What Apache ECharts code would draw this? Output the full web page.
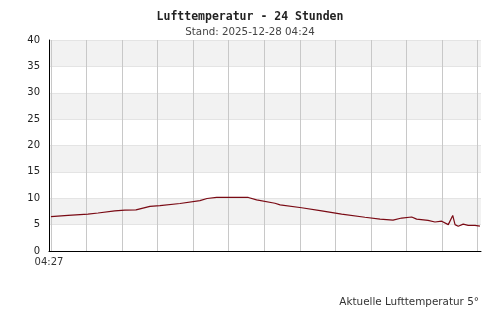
<!DOCTYPE html>
<html>
<head>
<meta charset="utf-8">
<script src="https://cdn.jsdelivr.net/npm/echarts@6/dist/echarts.min.js"></script>
<style>html,body{margin:0;padding:0;background:#fff}#c{width:500px;height:320px}</style>
</head>
<body>
<div id="c"></div>
<script>
// hours since 04:27
const hours = [0.11, 1.07, 2.19, 2.76, 3.70, 4.27, 4.89, 4.98, 5.68, 6.24, 7.37, 8.49, 8.89, 9.43, 11.21, 11.68, 12.71, 13.0, 14.21, 15.34, 16.46, 17.77, 18.62, 19.35, 19.84, 20.4, 20.68, 21.32, 21.71, 22.09, 22.46, 22.71, 22.84, 23.02, 23.3, 23.58, 23.96, 24.24];
const temps = [6.5, 6.75, 7.0, 7.2, 7.6, 7.75, 7.8, 8.15, 8.45, 8.6, 9.0, 9.55, 9.95, 10.15, 10.15, 9.7, 9.05, 8.75, 8.2, 7.6, 7.0, 6.4, 6.05, 5.85, 6.25, 6.45, 6.05, 5.8, 5.5, 5.65, 5.0, 6.75, 5.0, 4.7, 5.1, 4.85, 4.85, 4.7];
const yTicks = [0, 5, 10, 15, 20, 25, 30, 35, 40];
const startLabel = '04:27';
const titleText = 'Lufttemperatur - 24 Stunden';
const subText = 'Stand: 2025-12-28 04:24';
const footText = 'Aktuelle Lufttemperatur 5°';

const chart = echarts.init(document.getElementById('c'), null, {renderer: 'canvas'});
chart.setOption({
  animation: false,
  backgroundColor: '#ffffff',
  title: [
    {text: titleText, left: 'center', top: 6, textStyle: {fontFamily: 'DejaVu Sans Mono', fontWeight: 'bold', fontSize: 11.5, color: '#222'}},
    {text: subText, left: 'center', top: 22, textStyle: {fontFamily: 'DejaVu Sans', fontWeight: 'normal', fontSize: 10.3, color: '#444'}},
    {text: footText, right: 16, top: 292, textStyle: {fontFamily: 'DejaVu Sans', fontWeight: 'normal', fontSize: 10.4, color: '#333'}}
  ],
  grid: {left: 49, right: 19, top: 40, bottom: 69, containLabel: false},
  xAxis: [
    {
      type: 'value', min: 0, max: 24.3, interval: 2,
      axisLine: {show: true, onZero: false, lineStyle: {color: '#000', width: 1}},
      axisTick: {show: false},
      splitLine: {show: false},
      axisLabel: {show: true, margin: 6, showMinLabel: true, showMaxLabel: false, fontFamily: 'DejaVu Sans', fontSize: 10, color: '#333',
        formatter: v => (v === 0 ? startLabel : '')}
    },
    {
      type: 'value', min: -2.109, max: 22.191, splitNumber: 12, minInterval: 2, maxInterval: 2,
      axisLine: {show: false}, axisTick: {show: false}, axisLabel: {show: false},
      splitLine: {show: true, showMinLine: false, showMaxLine: false, lineStyle: {color: '#c8c8c8', width: 1}}
    }
  ],
  yAxis: {
    type: 'value', min: yTicks[0], max: yTicks[yTicks.length - 1], interval: 5,
    axisLine: {show: true, lineStyle: {color: '#000', width: 1}},
    axisTick: {show: false},
    axisLabel: {margin: 9, fontFamily: 'DejaVu Sans', fontSize: 10, color: '#222'},
    splitLine: {show: true, lineStyle: {color: '#e4e4e4', width: 1}},
    splitArea: {show: true, areaStyle: {color: ['#ffffff', '#f2f2f2']}}
  },
  series: [{
    type: 'line', xAxisIndex: 0, showSymbol: false, symbol: 'none',
    data: hours.map((h, i) => [h, temps[i]]),
    lineStyle: {color: '#7a0a14', width: 1.2},
    itemStyle: {color: '#7a0a14'}
  }]
});
</script>
</body>
</html>
